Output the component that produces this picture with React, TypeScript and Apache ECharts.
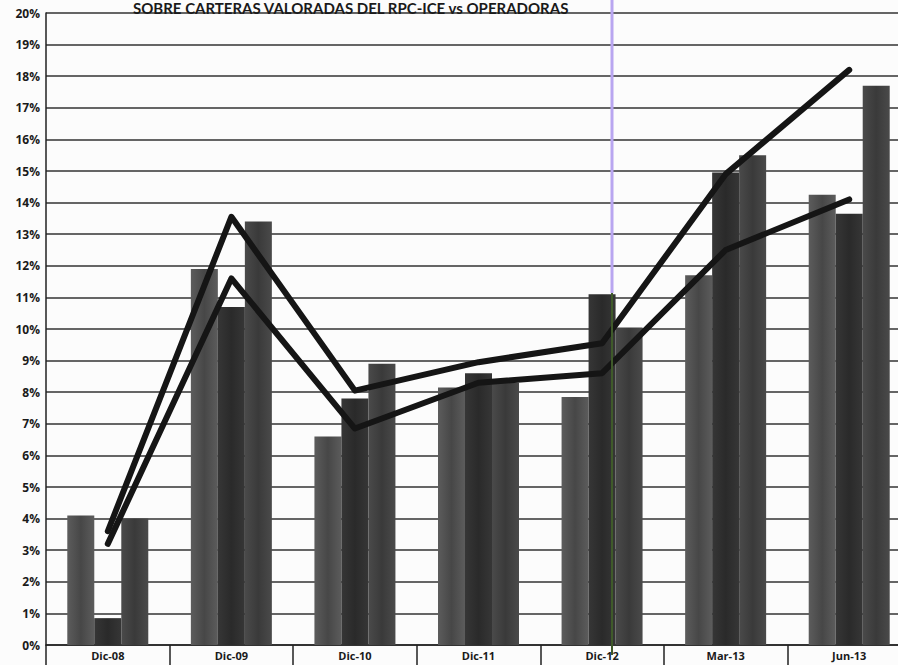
import React, { useEffect, useRef } from "react";
import * as echarts from "echarts";

const categories = ["Dic-08", "Dic-09", "Dic-10", "Dic-11", "Dic-12", "Mar-13", "Jun-13"];
const barA = [4.1, 11.9, 6.6, 8.15, 7.85, 11.7, 14.25];
const barB = [0.85, 10.7, 7.8, 8.6, 11.1, 14.95, 13.65];
const barC = [4.0, 13.4, 8.9, 8.3, 10.05, 15.5, 17.7];
const lineUpper = [3.6, 13.55, 8.05, 8.95, 9.55, 14.9, 18.2];
const lineLower = [3.2, 11.6, 6.85, 8.3, 8.6, 12.5, 14.1];
const title = "SOBRE CARTERAS VALORADAS DEL RPC-ICE vs OPERADORAS";

const grad = (a: string, b: string) =>
  new echarts.graphic.LinearGradient(0, 0, 1, 0, [
    { offset: 0, color: a },
    { offset: 0.5, color: b },
    { offset: 1, color: a },
  ]);

export default function App() {
  const ref = useRef<HTMLDivElement>(null);
  useEffect(() => {
    if (!ref.current) return;
    const chart = echarts.init(ref.current, null, { renderer: "svg" });
    const barSeries = (name: string, data: number[], a: string, b: string) => ({
      name,
      type: "bar",
      data,
      barWidth: 27,
      barGap: "0%",
      itemStyle: { color: grad(a, b) },
      z: 2,
    });
    const lineSeries = (name: string, data: number[]) => ({
      name,
      type: "line",
      data,
      symbol: "none",
      lineStyle: { color: "#151515", width: 6, cap: "round", join: "round" },
      z: 5,
    });
    chart.setOption({
      animation: false,
      backgroundColor: "#fcfcfc",
      grid: { left: 46, top: 13, width: 865, height: 632, outerBoundsMode: "none", containLabel: false },
      xAxis: {
        type: "category",
        data: categories,
        boundaryGap: true,
        axisLine: { show: true, lineStyle: { color: "#222", width: 1.5 } },
        axisTick: { show: true, length: 22, lineStyle: { color: "#222", width: 1.5 } },
        axisLabel: {
          color: "#1a1a1a",
          fontFamily: "Open Sans",
          fontWeight: "bold",
          fontSize: 11,
          margin: 5,
        },
      },
      yAxis: {
        type: "value",
        min: 0,
        max: 20,
        interval: 1,
        axisLine: { show: true, lineStyle: { color: "#222", width: 1.5 } },
        axisTick: { show: false },
        splitLine: { show: true, lineStyle: { color: "#333", width: 1.5 } },
        axisLabel: {
          formatter: (v: number) => v + "%",
          color: "#1a1a1a",
          fontFamily: "Open Sans",
          fontWeight: "bold",
          fontSize: 12,
          margin: 6,
        },
      },
      graphic: [
        {
          type: "text",
          left: 133,
          top: 0,
          style: {
            text: title,
            fill: "#1a1a1a",
            font: "bold 15px Lato",
          },
          z: 10,
        },
        {
          type: "line",
          shape: { x1: 612, y1: 0, x2: 612, y2: 293 },
          style: { stroke: "#b9a6f0", lineWidth: 3 },
          z: 1,
        },
        {
          type: "line",
          shape: { x1: 612, y1: 293, x2: 612, y2: 655 },
          style: { stroke: "#3f5a2a", lineWidth: 2 },
          z: 100,
        },
      ],
      series: [
        barSeries("A", barA, "#5c5c5c", "#474747"),
        barSeries("B", barB, "#363636", "#2a2a2a"),
        barSeries("C", barC, "#4a4a4a", "#3a3a3a"),
        lineSeries("L1", lineUpper),
        lineSeries("L2", lineLower),
      ],
    });
    return () => chart.dispose();
  }, []);
  return (
    <div
      ref={ref}
      style={{ position: "fixed", left: 0, top: 0, width: 898, height: 665 }}
    />
  );
}
